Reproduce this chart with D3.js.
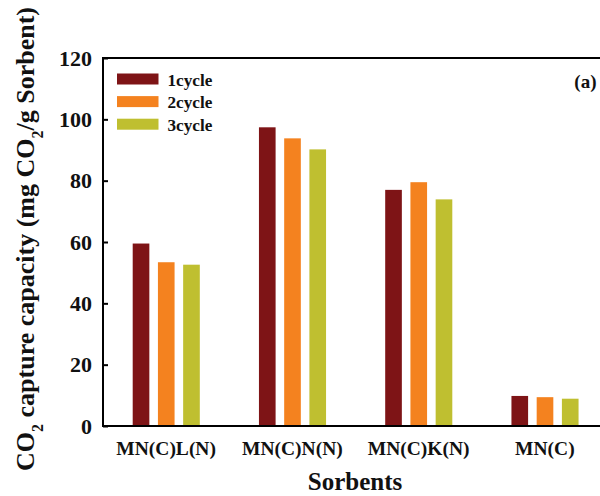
<!DOCTYPE html>
<html>
<head>
<meta charset="utf-8">
<script src="https://cdn.jsdelivr.net/npm/d3@7"></script>
<style>
  body { margin: 0; background: #fff; }
  svg text { font-family: "Liberation Serif", "Times New Roman", serif; font-weight: bold; fill: #111; }
</style>
</head>
<body>
<div id="chart"></div>
<script>
// data
const sorbents = ["MN(C)L(N)", "MN(C)N(N)", "MN(C)K(N)", "MN(C)"];
const series = ["1cycle", "2cycle", "3cycle"];
const cycle1 = [59.5, 97.4, 77.0, 9.8];
const cycle2 = [53.4, 93.8, 79.5, 9.4];
const cycle3 = [52.6, 90.2, 73.9, 8.9];
const colors = ["#7e1416", "#f4821f", "#bfbf30"];
const yTicks = [0, 20, 40, 60, 80, 100, 120];

const values = [cycle1, cycle2, cycle3];

const width = 600, height = 496;
const margin = {left: 103, right: 608, top: 58, bottom: 426};

const svg = d3.select("#chart").append("svg")
  .attr("width", width)
  .attr("height", height);

const x = d3.scaleBand().domain(sorbents).range([margin.left, margin.right]);
const x1 = d3.scaleBand().domain(series).range([29.7, 96.8]).paddingInner(0.34);
const y = d3.scaleLinear().domain([0, 120]).range([margin.bottom, margin.top]);

// bars
series.forEach((s, i) => {
  svg.append("g")
    .selectAll("rect")
    .data(sorbents)
    .join("rect")
    .attr("x", d => x(d) + x1(s))
    .attr("y", (d, j) => y(values[i][j]))
    .attr("width", x1.bandwidth())
    .attr("height", (d, j) => y(0) - y(values[i][j]))
    .style("fill", colors[i]);
});

// frame (right side runs off the picture)
svg.append("path")
  .attr("d", `M${margin.right},${margin.top}H${margin.left}V${margin.bottom}H${margin.right}`)
  .attr("fill", "none")
  .attr("stroke", "#000")
  .attr("stroke-width", 2);

// y axis, ticks inward
const yAxis = svg.append("g")
  .attr("transform", `translate(${margin.left},0)`)
  .call(d3.axisLeft(y).tickValues(yTicks).tickSizeInner(-5).tickSizeOuter(0).tickPadding(11));
yAxis.select(".domain").remove();
yAxis.selectAll("line").attr("stroke-width", 2);
yAxis.selectAll("text")
  .style("font-size", "22px")
  .style("font-family", "Liberation Serif")
  .attr("fill", "#111");

// x labels
const xAxis = svg.append("g")
  .attr("transform", `translate(0,${margin.bottom})`)
  .call(d3.axisBottom(x).tickSize(0).tickPadding(15));
xAxis.select(".domain").remove();
xAxis.selectAll("text")
  .style("font-size", "19.5px")
  .style("font-family", "Liberation Serif")
  .attr("fill", "#111");

// axis titles
svg.append("text")
  .attr("x", 355)
  .attr("y", 490)
  .attr("text-anchor", "middle")
  .style("font-size", "25px")
  .text("Sorbents");

const yt = svg.append("text")
  .attr("transform", "translate(34,239) rotate(-90)")
  .attr("text-anchor", "middle")
  .style("font-size", "26px");
yt.append("tspan").text("CO");
yt.append("tspan").attr("baseline-shift", "sub").style("font-size", "16px").text("2");
yt.append("tspan").text(" capture capacity (mg CO");
yt.append("tspan").attr("baseline-shift", "sub").style("font-size", "16px").text("2");
yt.append("tspan").text("/g Sorbent)");

// legend
const legend = svg.append("g");
series.forEach((s, i) => {
  legend.append("rect")
    .attr("x", 117)
    .attr("y", 73.5 + i * 22.6)
    .attr("width", 41.5)
    .attr("height", 11)
    .style("fill", colors[i]);
  legend.append("text")
    .attr("x", 167.5)
    .attr("y", 85.5 + i * 22.6)
    .style("font-size", "17.2px")
    .text(s);
});

svg.append("text")
  .attr("x", 596.5)
  .attr("y", 88)
  .attr("text-anchor", "end")
  .style("font-size", "19px")
  .text("(a)");
</script>
</body>
</html>
